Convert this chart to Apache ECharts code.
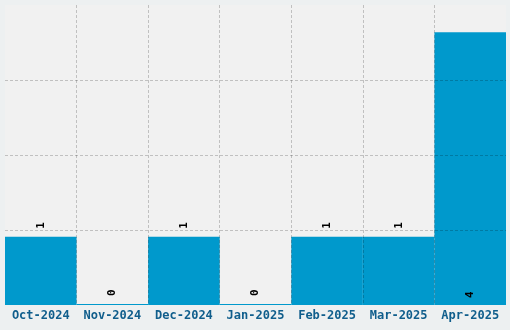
<!DOCTYPE html>
<html><head><meta charset="utf-8">
<script src="https://cdn.jsdelivr.net/npm/echarts@6/dist/echarts.min.js"></script>
<style>html,body{margin:0;padding:0;background:#edf0f1;}#c{width:510px;height:330px;}</style>
</head><body><div id="c"></div>
<script>
const categories = ['Oct-2024','Nov-2024','Dec-2024','Jan-2025','Feb-2025','Mar-2025','Apr-2025'];
const values = [1, 0, 1, 0, 1, 1, 4];
const yMax = 4.4;
const yInterval = 1.1;

const chart = echarts.init(document.getElementById('c'));
const gridLine = { show: true, showMinLine: false, showMaxLine: false, lineStyle: { color: 'rgba(0,0,0,0.2)', type: [3, 2], width: 1 } };
const data = values.map((v, i) => {
  const inside = v >= 3;
  return {
    value: v,
    label: {
      position: inside ? 'insideBottom' : 'top',
      distance: inside ? 7 : 8
    }
  };
});
chart.setOption({
  backgroundColor: '#edf0f1',
  animation: false,
  grid: { left: 5, right: 4, top: 5, bottom: 25, show: true, backgroundColor: '#f1f1f1', borderWidth: 0, containLabel: false },
  xAxis: {
    type: 'category', data: categories, z: 5,
    axisLine: { show: false }, axisTick: { show: false },
    axisLabel: { color: '#105e8c', fontFamily: 'DejaVu Sans Mono', fontWeight: 'bold', fontSize: 12, margin: 5, interval: 0 },
    splitLine: gridLine
  },
  yAxis: {
    type: 'value', min: 0, max: yMax, interval: yInterval, z: 5,
    axisLine: { show: false }, axisTick: { show: false }, axisLabel: { show: false },
    splitLine: gridLine
  },
  series: [{
    type: 'bar', data: data, barCategoryGap: 0, barMinHeight: 1,
    itemStyle: { color: '#0099cc' },
    label: { show: true, rotate: 90, align: 'left', verticalAlign: 'middle', color: '#000', fontFamily: 'DejaVu Sans Mono', fontWeight: 'bold', fontSize: 11 }
  }]
});
</script></body></html>
